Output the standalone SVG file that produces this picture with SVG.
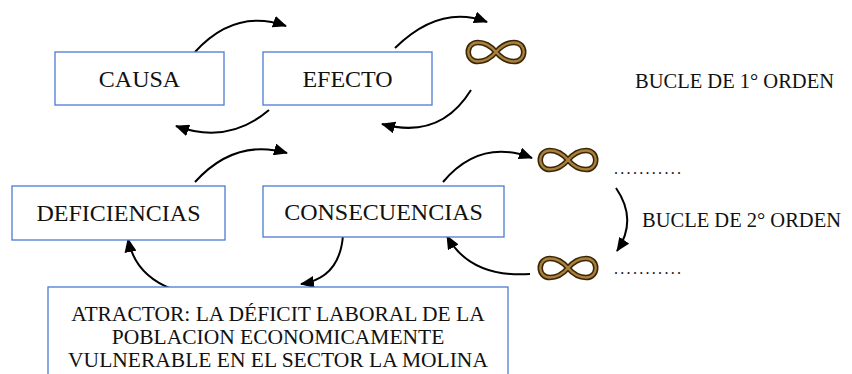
<svg xmlns="http://www.w3.org/2000/svg" width="852" height="374" viewBox="0 0 852 374">
<style>
.box{fill:#fff;stroke:#4a7bd0;stroke-width:1.3}
text{font-family:'Liberation Serif','Tinos','DejaVu Serif',serif;fill:#111}
.t{text-anchor:middle}
.bt{font-size:24px}
.at{font-size:21.5px}
.lbl{font-size:20.5px}
.dots{font-size:16px;letter-spacing:2.3px}
.c{fill:none;stroke:#000;stroke-width:2}
.inf1{fill:none;stroke:#3a2508;stroke-width:5.5;stroke-linejoin:round}
.inf2{fill:none;stroke:#a8803a;stroke-width:2.4;stroke-linejoin:round}
</style>
<defs>
<marker id="ah" markerWidth="14" markerHeight="12" refX="13" refY="6" orient="auto" markerUnits="userSpaceOnUse">
<path d="M0,0 L14,6 L0,12 Z" fill="#000"/>
</marker>
<path id="infp" d="M0,0 C6,-7 12,-9.5 18,-9.5 C31,-9.5 31,9.5 18,9.5 C12,9.5 6,7 0,0 C-6,-7 -12,-9.5 -18,-9.5 C-31,-9.5 -31,9.5 -18,9.5 C-12,9.5 -6,7 0,0 Z"/>
<g id="infsym">
<use href="#infp" class="inf1"/>
<use href="#infp" class="inf2"/>
</g>
</defs>
<rect width="852" height="374" fill="#fff"/>

<g id="connectors">
<path class="c" d="M195,52 Q235,8 286,26" marker-end="url(#ah)"/>
<path class="c" d="M395,48 Q440,4 487,22" marker-end="url(#ah)"/>
<path class="c" d="M269,110 Q228,145 176,126" marker-end="url(#ah)"/>
<path class="c" d="M471,90 Q440,140 382,124" marker-end="url(#ah)"/>
<path class="c" d="M195,182 Q235,138 287,153" marker-end="url(#ah)"/>
<path class="c" d="M443,182 Q480,138 532,158" marker-end="url(#ah)"/>
<path class="c" d="M172,289 Q135,275 128,239" marker-end="url(#ah)"/>
<path class="c" d="M343,235 Q340,278 301,284" marker-end="url(#ah)"/>
<path class="c" d="M530,274 Q470,278 447,236" marker-end="url(#ah)"/>
<path class="c" d="M616,188 Q638,220 617,251" marker-end="url(#ah)"/>
</g>

<g id="causa">
<rect class="box" x="55" y="52" width="169" height="53"/>
<text class="t bt" x="139.5" y="87">CAUSA</text>
</g>
<g id="efecto">
<rect class="box" x="263" y="52" width="169" height="53"/>
<text class="t bt" x="347.5" y="87">EFECTO</text>
</g>
<g id="deficiencias">
<rect class="box" x="12" y="186" width="213" height="54"/>
<text class="t bt" x="118.5" y="221">DEFICIENCIAS</text>
</g>
<g id="consecuencias">
<rect class="box" x="263" y="186" width="241" height="51"/>
<text class="t bt" x="383.5" y="220">CONSECUENCIAS</text>
</g>
<g id="atractor">
<rect class="box" x="48" y="287" width="460" height="100"/>
<text class="t at" x="278" y="321">ATRACTOR: LA DÉFICIT LABORAL DE LA</text>
<text class="t at" x="278" y="344">POBLACION ECONOMICAMENTE</text>
<text class="t at" x="278" y="367">VULNERABLE EN EL SECTOR LA MOLINA</text>
</g>

<g id="inf-1"><use href="#infsym" transform="translate(496,52)"/></g>
<g id="inf-2"><use href="#infsym" transform="translate(568,160)"/></g>
<g id="inf-3"><use href="#infsym" transform="translate(568,268)"/></g>

<g id="labels">
<text class="lbl" x="635" y="88">BUCLE DE 1° ORDEN</text>
<text class="lbl" x="642" y="227">BUCLE DE 2° ORDEN</text>
<text class="dots" x="614" y="174">...........</text>
<text class="dots" x="614" y="274">...........</text>
</g>
</svg>
